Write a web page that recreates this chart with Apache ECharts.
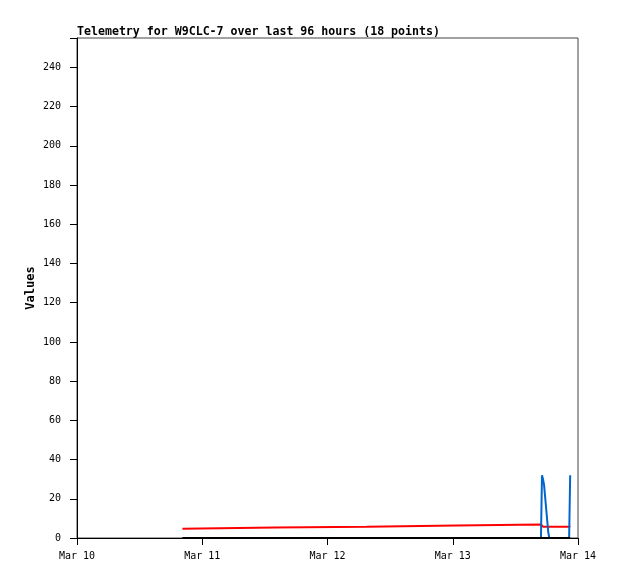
<!DOCTYPE html>
<html><head><meta charset="utf-8">
<script src="https://cdn.jsdelivr.net/npm/echarts@6/dist/echarts.min.js"></script>
<style>html,body{margin:0;padding:0;background:#fff}#c{width:618px;height:579px}</style>
</head><body><div id="c"></div>
<script>
// hours since Mar 10 00:00
const hours = [20.2, 38.0, 55.5, 72.7, 88.9, 89.1, 89.3, 89.5, 89.7, 89.9, 90.1, 90.3, 90.5, 91.0, 92.0, 93.5, 94.3, 94.5];
const redVals = [4.7, 5.3, 5.8, 6.4, 6.9, 5.9, 5.8, 5.8, 5.8, 5.8, 5.8, 5.8, 5.8, 5.8, 5.8, 5.8, 5.8, 6.3];
const blueVals = [0, 0, 0, 0, 0, 32, 30, 27, 21, 15, 9, 3, 0, 0, 0, 0, 0, 32];
const blackVals = [0, 0, 0, 0, 0, 0, 0, 0, 0, 0, 0, 0, 0, 0, 0, 0, 0, 0];
const xTickLabels = ['Mar 10', 'Mar 11', 'Mar 12', 'Mar 13', 'Mar 14'];
const titleText = 'Telemetry for W9CLC-7 over last 96 hours (18 points)';

const pair = v => hours.map((h, i) => [h, v[i]]);
const mono = 'DejaVu Sans Mono';
const chart = echarts.init(document.getElementById('c'), null, {renderer: 'canvas'});
const lineSeries = (data, color) => ({
  type: 'line', data: pair(data), showSymbol: false, symbol: 'none',
  lineStyle: {color: color, width: 2}, itemStyle: {color: color}, animation: false
});
chart.setOption({
  animation: false,
  title: {text: titleText, left: 72, top: 21,
    textStyle: {fontFamily: mono, fontSize: 11.6, fontWeight: 'bold', color: '#000'}},
  grid: {left: 77, right: 40, top: 38, bottom: 41, show: true, borderColor: '#444', borderWidth: 1},
  xAxis: {type: 'value', min: 0, max: 96, interval: 24,
    axisLine: {show: true, onZero: false, lineStyle: {color: '#000', width: 1}},
    axisTick: {show: true, length: 7, lineStyle: {color: '#000'}},
    splitLine: {show: false},
    axisLabel: {margin: 13, fontFamily: mono, fontSize: 10, color: '#000',
      formatter: v => xTickLabels[Math.round(v / 24)] || ''}},
  yAxis: {type: 'value', min: 0, max: 255, interval: 20,
    name: 'Values', nameLocation: 'middle', nameGap: 40, nameRotate: 90,
    nameMoveOverlap: false,
    nameTextStyle: {fontFamily: mono, fontSize: 12, fontWeight: 'bold', color: '#000'},
    axisLine: {show: true, lineStyle: {color: '#000', width: 1}},
    axisTick: {show: true, length: 7, lineStyle: {color: '#000'}},
    splitLine: {show: false},
    axisLabel: {margin: 16, fontFamily: mono, fontSize: 10, color: '#000',
      formatter: v => (v % 20 === 0 ? String(v) : '')}},
  series: [lineSeries(redVals, '#ff0000'), lineSeries(blueVals, '#0066cc'), lineSeries(blackVals, '#000000')]
});
</script></body></html>
